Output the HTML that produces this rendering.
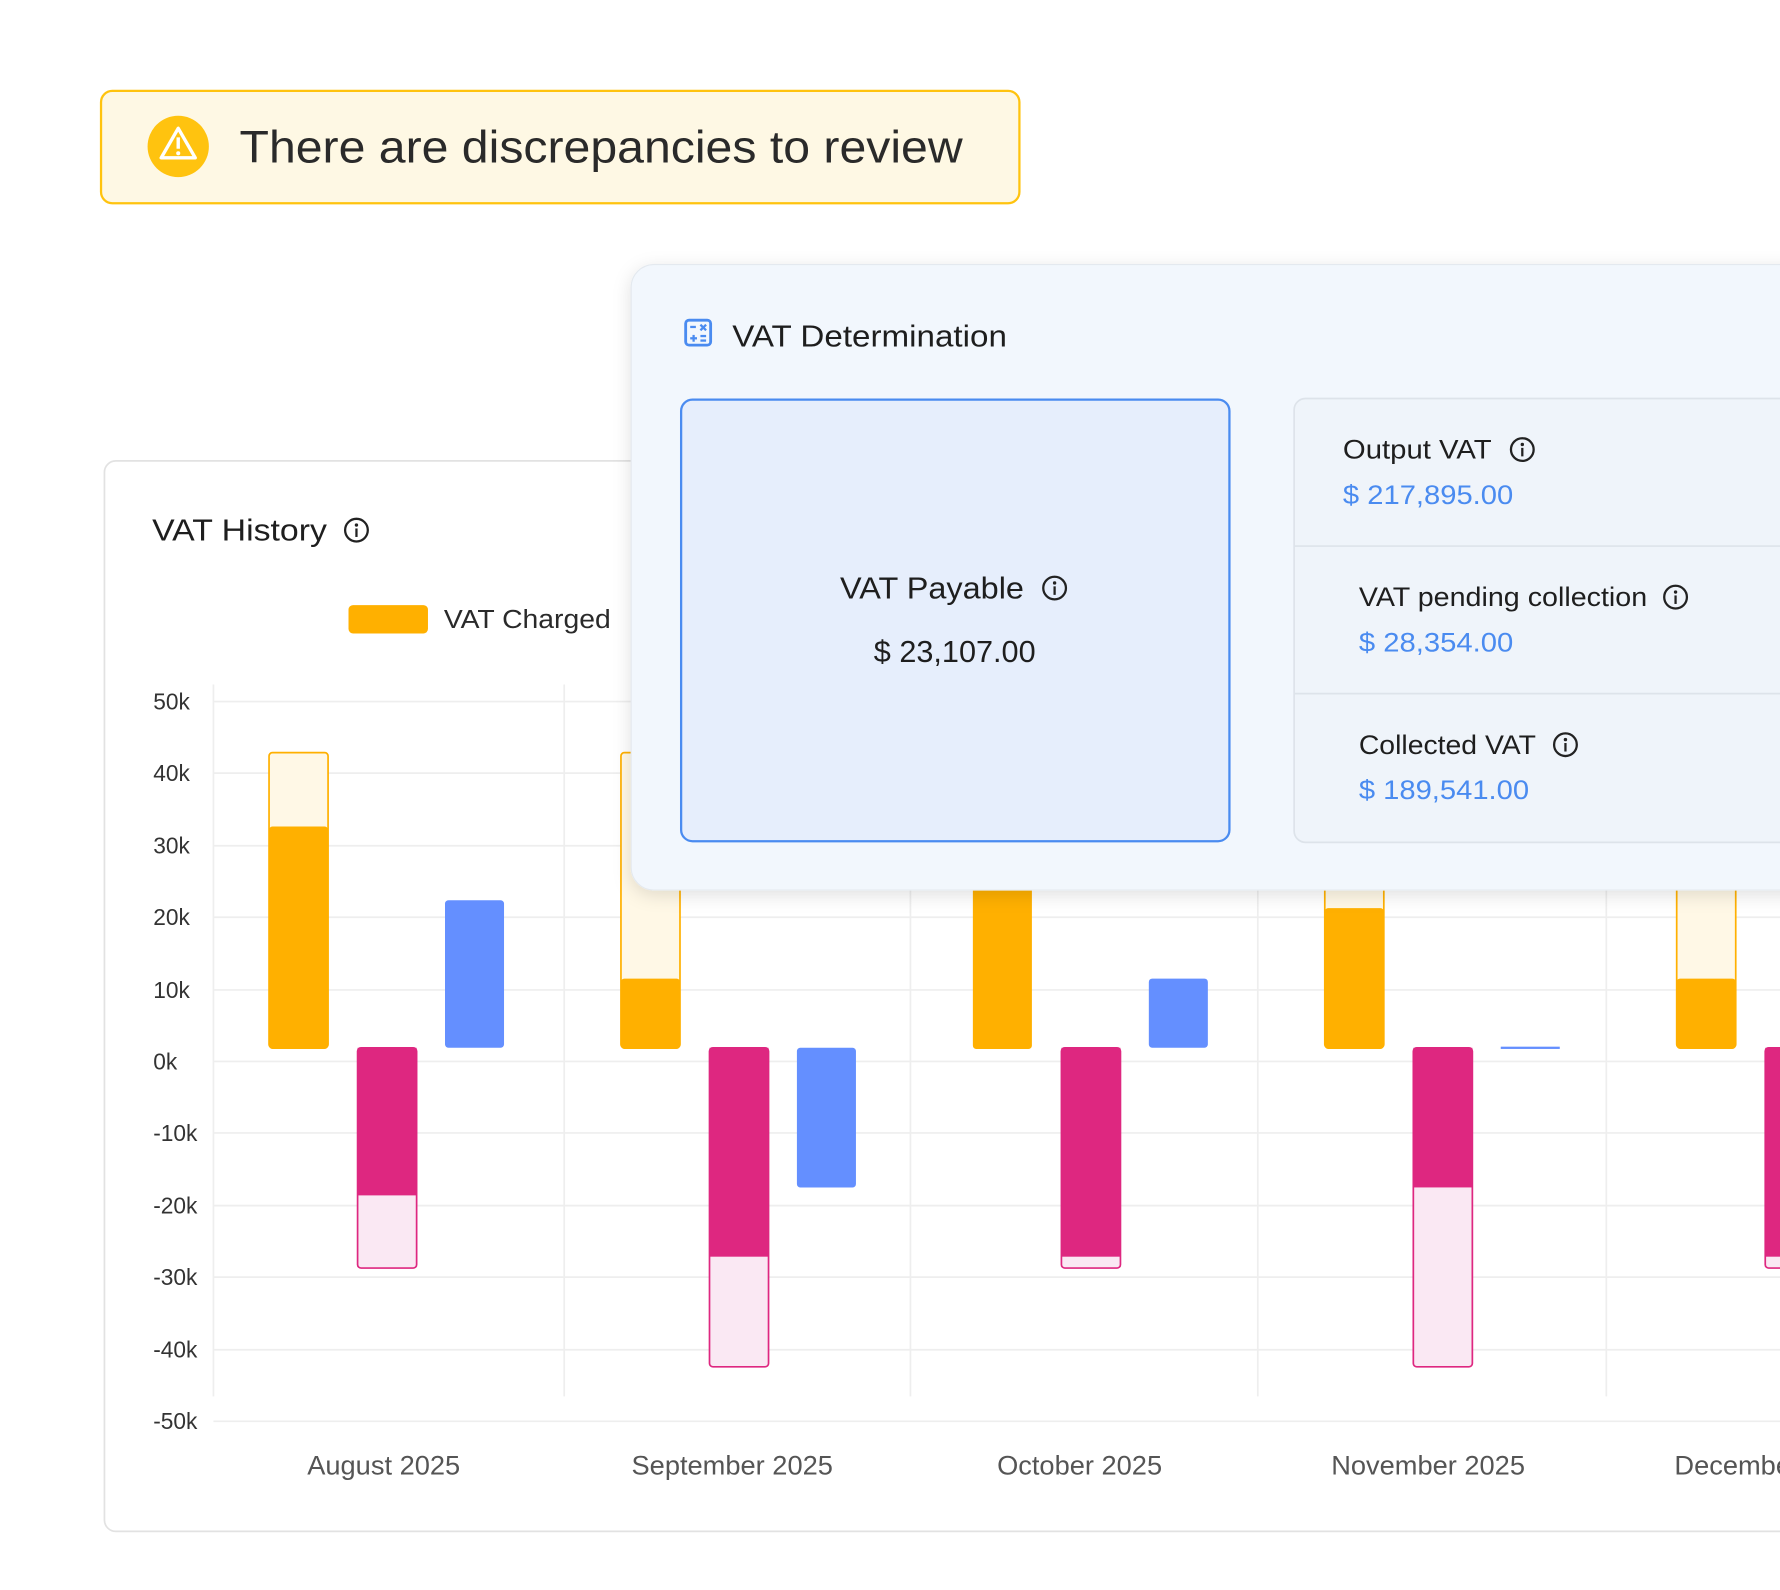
<!DOCTYPE html>
<html><head><meta charset="utf-8"><style>html,body{margin:0;padding:0;background:#fff}svg{display:block}</style></head>
<body>
<svg width="1780" height="1590" viewBox="0 0 1568 1400.6" xmlns="http://www.w3.org/2000/svg" font-family="Liberation Sans, sans-serif">
<defs>
<filter id="sh" x="-10%" y="-10%" width="130%" height="130%"><feDropShadow dx="0" dy="4" stdDeviation="8" flood-color="#000" flood-opacity="0.12"/></filter>
<g id="info"><circle cx="0" cy="0" r="10" fill="none" stroke="#222" stroke-width="2"/><circle cx="0" cy="-4.5" r="1.5" fill="#222"/><rect x="-1" y="-1.5" width="2" height="7.5" fill="#222"/></g>
</defs>
<rect width="1568" height="1401" fill="#fff"/>
<!-- banner -->
<rect x="89" y="80" width="809" height="99" rx="10" fill="#FEF8E4" stroke="#FFC30F" stroke-width="2"/>
<circle cx="157" cy="129" r="27" fill="#FFC30F"/>
<path d="M157 113 L142 139 L172 139 Z" fill="none" stroke="#fff" stroke-width="3" stroke-linejoin="round"/>
<rect x="155.5" y="121" width="3" height="10" fill="#fff"/><circle cx="157" cy="135" r="1.8" fill="#fff"/>
<text x="211" y="143" font-size="40" fill="#2a2a2a" textLength="637" lengthAdjust="spacingAndGlyphs">There are discrepancies to review</text>
<!-- history panel -->
<rect x="92" y="406" width="1500" height="943" rx="10" fill="#fff" stroke="#e2e2e2" stroke-width="1.5"/>
<text x="134" y="476" font-size="27" fill="#1e1e1e" textLength="154" lengthAdjust="spacingAndGlyphs">VAT History</text>
<use href="#info" x="314" y="467"/>
<rect x="307" y="533" width="70" height="25" rx="4" fill="#FFB000"/>
<text x="391" y="553" font-size="23" fill="#2a2a2a" textLength="147" lengthAdjust="spacingAndGlyphs">VAT Charged</text>
<!-- grid -->
<g stroke="#eeeeee" stroke-width="1.5">
<line x1="188" y1="618" x2="1568" y2="618"/><line x1="188" y1="681" x2="1568" y2="681"/><line x1="188" y1="745" x2="1568" y2="745"/><line x1="188" y1="808" x2="1568" y2="808"/><line x1="188" y1="872" x2="1568" y2="872"/><line x1="188" y1="935" x2="1568" y2="935"/><line x1="188" y1="998" x2="1568" y2="998"/><line x1="188" y1="1062" x2="1568" y2="1062"/><line x1="188" y1="1125" x2="1568" y2="1125"/><line x1="188" y1="1189" x2="1568" y2="1189"/><line x1="188" y1="1252" x2="1568" y2="1252"/>
<line x1="188" y1="603" x2="188" y2="1230"/><line x1="497" y1="603" x2="497" y2="1230"/><line x1="802" y1="603" x2="802" y2="1230"/><line x1="1108" y1="603" x2="1108" y2="1230"/><line x1="1415" y1="603" x2="1415" y2="1230"/>
</g>
<g font-size="20" fill="#333">
<text x="135" y="625">50k</text><text x="135" y="688">40k</text><text x="135" y="752">30k</text><text x="135" y="815">20k</text><text x="135" y="879">10k</text><text x="135" y="942">0k</text><text x="135" y="1005">-10k</text><text x="135" y="1069">-20k</text><text x="135" y="1132">-30k</text><text x="135" y="1196">-40k</text><text x="135" y="1259">-50k</text>
</g>
<g font-size="24" fill="#555" text-anchor="middle">
<text x="338" y="1299">August 2025</text><text x="645" y="1299">September 2025</text><text x="951" y="1299">October 2025</text><text x="1258" y="1299">November 2025</text><text x="1475" y="1299" text-anchor="start">December 2025</text>
</g>
<!-- bars -->
<g stroke-width="1.5">
<rect x="237" y="663" width="52" height="260" rx="3" fill="#FFF8E6" stroke="#FFB000"/>
<rect x="237" y="728" width="52" height="196" rx="3" fill="#FFB000"/>
<rect x="315" y="923" width="52" height="194" rx="3" fill="#FAE8F3" stroke="#DE2780"/>
<rect x="315" y="923" width="52" height="130" fill="#DE2780"/>
<rect x="392" y="793" width="52" height="130" rx="3" fill="#648FFF"/>

<rect x="547" y="663" width="52" height="260" rx="3" fill="#FFF8E6" stroke="#FFB000"/>
<rect x="547" y="862" width="52" height="62" rx="3" fill="#FFB000"/>
<rect x="625" y="923" width="52" height="281" rx="3" fill="#FAE8F3" stroke="#DE2780"/>
<rect x="625" y="923" width="52" height="184" fill="#DE2780"/>
<rect x="702" y="923" width="52" height="123" rx="3" fill="#648FFF"/>

<rect x="857" y="700" width="52" height="224" rx="3" fill="#FFB000"/>
<rect x="935" y="923" width="52" height="194" rx="3" fill="#FAE8F3" stroke="#DE2780"/>
<rect x="935" y="923" width="52" height="184" fill="#DE2780"/>
<rect x="1012" y="862" width="52" height="61" rx="3" fill="#648FFF"/>

<rect x="1167" y="700" width="52" height="223" rx="3" fill="#FFF8E6" stroke="#FFB000"/>
<rect x="1167" y="800" width="52" height="124" rx="3" fill="#FFB000"/>
<rect x="1245" y="923" width="52" height="281" rx="3" fill="#FAE8F3" stroke="#DE2780"/>
<rect x="1245" y="923" width="52" height="123" fill="#DE2780"/>
<rect x="1322" y="922" width="52" height="2" fill="#648FFF"/>

<rect x="1477" y="700" width="52" height="223" rx="3" fill="#FFF8E6" stroke="#FFB000"/>
<rect x="1477" y="862" width="52" height="62" rx="3" fill="#FFB000"/>
<rect x="1555" y="923" width="52" height="194" rx="3" fill="#FAE8F3" stroke="#DE2780"/>
<rect x="1555" y="923" width="52" height="184" fill="#DE2780"/>
</g>
<!-- determination panel -->
<rect x="556" y="233" width="1100" height="551" rx="20" fill="#F2F7FD" stroke="#e4e9ef" stroke-width="1" filter="url(#sh)"/>
<rect x="604" y="282" width="22" height="22" rx="3" fill="none" stroke="#4A8BF0" stroke-width="2.5"/>
<g stroke="#4A8BF0" stroke-width="2"><line x1="608" y1="288" x2="613" y2="288"/><line x1="617" y1="286" x2="622" y2="291"/><line x1="622" y1="286" x2="617" y2="291"/><line x1="608" y1="298" x2="614" y2="298"/><line x1="611" y1="295" x2="611" y2="301"/><line x1="617" y1="296" x2="622" y2="296"/><line x1="617" y1="300" x2="622" y2="300"/></g>
<text x="645" y="305" font-size="27" fill="#1e1e1e" textLength="242" lengthAdjust="spacingAndGlyphs">VAT Determination</text>
<rect x="600" y="352" width="483" height="389" rx="10" fill="#E6EEFC" stroke="#4A8BF0" stroke-width="2"/>
<text x="740" y="527" font-size="27" fill="#1e1e1e" textLength="162" lengthAdjust="spacingAndGlyphs">VAT Payable</text>
<use href="#info" x="929" y="518"/>
<text x="841" y="583" font-size="27" fill="#1e1e1e" text-anchor="middle">$ 23,107.00</text>
<rect x="1140" y="351" width="520" height="391" rx="10" fill="#EFF4FA" stroke="#DDE3EA" stroke-width="1.5"/>
<line x1="1140" y1="481" x2="1568" y2="481" stroke="#DDE3EA" stroke-width="1.5"/>
<line x1="1140" y1="611" x2="1568" y2="611" stroke="#DDE3EA" stroke-width="1.5"/>
<text x="1183" y="404" font-size="24" fill="#1e1e1e" textLength="131" lengthAdjust="spacingAndGlyphs">Output VAT</text>
<use href="#info" x="1341" y="396"/>
<text x="1183" y="444" font-size="24" fill="#4A8BF0" textLength="150" lengthAdjust="spacingAndGlyphs">$ 217,895.00</text>
<text x="1197" y="534" font-size="24" fill="#1e1e1e" textLength="254" lengthAdjust="spacingAndGlyphs">VAT pending collection</text>
<use href="#info" x="1476" y="526"/>
<text x="1197" y="574" font-size="24" fill="#4A8BF0" textLength="136" lengthAdjust="spacingAndGlyphs">$ 28,354.00</text>
<text x="1197" y="664" font-size="24" fill="#1e1e1e" textLength="156" lengthAdjust="spacingAndGlyphs">Collected VAT</text>
<use href="#info" x="1379" y="656"/>
<text x="1197" y="704" font-size="24" fill="#4A8BF0" textLength="150" lengthAdjust="spacingAndGlyphs">$ 189,541.00</text>
</svg>
</body></html>
